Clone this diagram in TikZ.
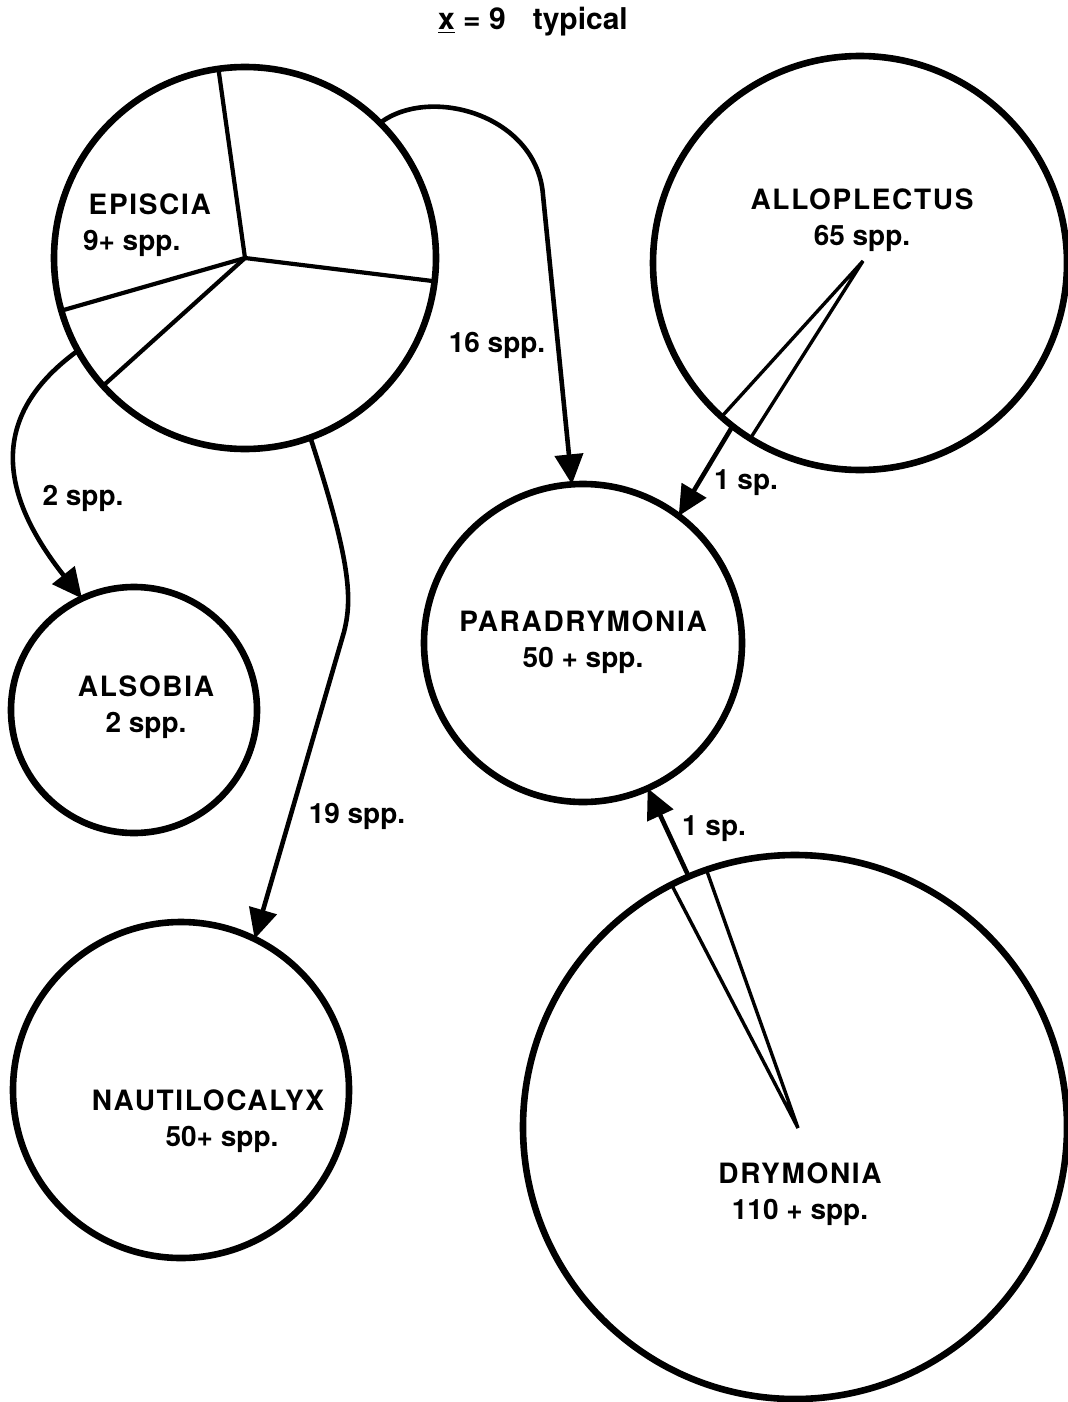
\documentclass[tikz,border=0pt]{standalone}
\usepackage{fontspec}
\setmainfont{TeX Gyre Heros}
\newfontfamily\capsfont[LetterSpace=6.0]{TeX Gyre Heros}
\usetikzlibrary{arrows.meta}

\begin{document}
\begin{tikzpicture}[x=0.5pt,y=-0.5pt,>={Triangle[length=15pt,width=14pt]}]
  \tikzset{
    genus/.style={circle,draw,line width=3.3pt,inner sep=0pt,outer sep=0pt},
    slice/.style={line width=2.1pt},
    wedge/.style={line width=1.7pt,line join=miter},
    flow/.style={->,line width=2.3pt},
    gname/.style={font=\fontsize{14}{18}\selectfont\bfseries,align=center},
    cnt/.style={font=\fontsize{14}{17}\selectfont\bfseries}
  }
  \useasboundingbox (0,0) rectangle (1067,1402);
  \node[font=\fontsize{15}{18}\selectfont\bfseries] (title) at (533,22) {\underline{x} = 9\hspace{0.9em}typical};
  % genera
  \node[genus,minimum size=191pt] (episcia) at (245,258) {};
  \node[genus,minimum size=207pt] (allo) at (860,263) {};
  \node[genus,minimum size=159pt] (para) at (583,643) {};
  \node[genus,minimum size=123pt] (alsobia) at (134,710) {};
  \node[genus,minimum size=168pt] (naut) at (181,1090) {};
  \node[genus,minimum size=272pt] (dry) at (795,1127) {};
  % pie of Episcia
  \foreach \a in {98.5,-7.3,196.7,222.6}
    \draw[slice] (episcia.center) -- (episcia.\a);
  % thin wedges
  \coordinate (allo-apex) at (863,261);
  \coordinate (dry-apex) at (798,1128);
  \draw[wedge] (allo.228.9) -- (allo-apex) -- (allo.238.3);
  \draw[wedge] (dry.117.5) -- (dry-apex) -- (dry.109.8);
  % names
  \node[gname,align=left,anchor=west] (episcia-lbl) at (76,225) {\hspace{0.2em}{\capsfont EPISCIA}\\9+ spp.};
  \node[gname] (allo-lbl) at (862,220) {{\capsfont ALLOPLECTUS}\\65 spp.};
  \node[gname] (para-lbl) at (583,642) {{\capsfont PARADRYMONIA}\\50 + spp.};
  \node[gname] (alsobia-lbl) at (146,707) {{\capsfont ALSOBIA}\\2 spp.};
  \node[gname] (naut-lbl) at (208,1121) {{\capsfont NAUTILOCALYX}\\\hspace{1em}50+ spp.};
  \node[gname] (dry-lbl) at (800,1194) {{\capsfont DRYMONIA}\\110 + spp.};
  % connectors
  \draw[flow] (episcia.45) .. controls (430,85) and (537,115) .. (543,195) -- (para.94.6);
  \draw[flow] (episcia.209.5) .. controls (10,400) and (-20,470) .. (alsobia.115);
  \draw[flow] (episcia.-70) .. controls (352,565) and (352,600) .. (344,632) -- (naut.64);
  \draw[flow] (allo.232.7) -- (para.53);
  \draw[flow] (dry.113.5) -- (para.-66);
  % counts
  \node[cnt] (c-para) at (497,345) {16 spp.};
  \node[cnt] (c-alsobia) at (83,498) {2 spp.};
  \node[cnt] (c-naut) at (357,816) {19 spp.};
  \node[cnt] (c-allo) at (746,483) {1 sp.};
  \node[cnt] (c-dry) at (714,829) {1 sp.};
\end{tikzpicture}
\end{document}
